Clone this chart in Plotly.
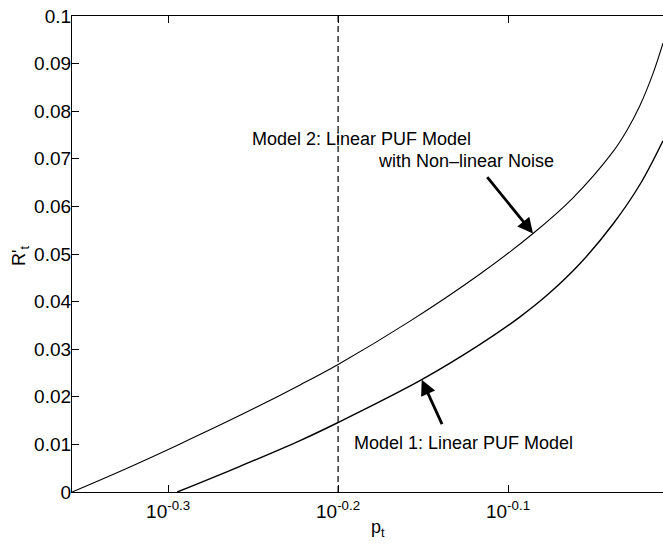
import math
import plotly.graph_objects as go

# Model 2: linear PUF model with non-linear noise
p_model2 = [0.4400, 0.4734, 0.5094, 0.5525, 0.5993, 0.6310, 0.6956, 0.7648,
            0.8217, 0.8675, 0.9158, 0.9333, 0.9498, 0.9667, 0.9799]
r_model2 = [0.0, 0.0049, 0.0101, 0.0161, 0.0225, 0.0268, 0.0359, 0.0458,
            0.0543, 0.0618, 0.0715, 0.0760, 0.0812, 0.0879, 0.0943]

# Model 1: linear PUF model
p_model1 = [0.5074, 0.5525, 0.5993, 0.6310, 0.7067, 0.7648, 0.8074,
            0.8409, 0.8758, 0.9158, 0.9498, 0.9799]
r_model1 = [0.0, 0.0054, 0.0108, 0.0146, 0.0236, 0.0310, 0.0368,
            0.0419, 0.0480, 0.0563, 0.0646, 0.0738]

# reference operating point (dashed marker)
p_marker = 0.631

# axis ticks
x_tickvals = [10 ** -0.3, 10 ** -0.2, 10 ** -0.1]
x_ticktext = ["10<sup>-0.3</sup>", "10<sup>-0.2</sup>", "10<sup>-0.1</sup>"]
y_tickvals = [0, 0.01, 0.02, 0.03, 0.04, 0.05, 0.06, 0.07, 0.08, 0.09, 0.1]
y_ticktext = ["0", "0.01", "0.02", "0.03", "0.04", "0.05", "0.06", "0.07",
              "0.08", "0.09", "0.1"]

# arrow targets on the curves
arrow1_p, arrow1_r = 0.7067, 0.0236
arrow2_p, arrow2_r = 0.8217, 0.0543

W, H = 663, 547
L, R, T, B = 72, 0, 16, 55
PW, PH = W - L - R, H - T - B
FONT = "Liberation Sans, Arial, Helvetica, sans-serif"


def px(xp):
    return (xp - L) / PW


def py(yp):
    return (H - B - yp) / PH


fig = go.Figure()
fig.add_trace(go.Scatter(x=[p_marker, p_marker], y=[0, 0.1], mode="lines",
                         line=dict(color="black", width=1.2, dash="6px,4px"),
                         showlegend=False, hoverinfo="skip"))
fig.add_trace(go.Scatter(x=p_model2, y=r_model2, mode="lines",
                         line=dict(color="black", width=1.1, shape="spline"),
                         showlegend=False))
fig.add_trace(go.Scatter(x=p_model1, y=r_model1, mode="lines",
                         line=dict(color="black", width=1.4, shape="spline"),
                         showlegend=False))

annotations = [
    dict(text="Model 2: Linear PUF Model", x=px(250), y=py(139),
         xref="paper", yref="paper", xanchor="left", yanchor="middle",
         showarrow=False),
    dict(text="with Non\u2013linear Noise", x=px(376), y=py(161),
         xref="paper", yref="paper", xanchor="left", yanchor="middle",
         showarrow=False),
    dict(text="Model 1: Linear PUF Model", x=px(352), y=py(443),
         xref="paper", yref="paper", xanchor="left", yanchor="middle",
         showarrow=False),
    dict(text="", x=math.log10(arrow1_p), y=arrow1_r, xref="x", yref="y",
         ax=21, ay=46, showarrow=True, arrowhead=2, arrowsize=1.1,
         arrowwidth=2.8, arrowcolor="black", standoff=0),
    dict(text="", x=math.log10(arrow2_p), y=arrow2_r, xref="x", yref="y",
         ax=-47, ay=-58, showarrow=True, arrowhead=2, arrowsize=1.1,
         arrowwidth=2.8, arrowcolor="black", standoff=0),
    dict(text="p<sub>t</sub>", x=px(378), y=py(528), xref="paper", yref="paper",
         xanchor="center", yanchor="middle", showarrow=False),
    dict(text="R'<sub>t</sub>", x=px(20), y=py(256), xref="paper", yref="paper",
         xanchor="center", yanchor="middle", textangle=-90, showarrow=False),
]

fig.update_layout(
    width=W, height=H,
    margin=dict(l=L, r=R, t=T, b=B, pad=0),
    paper_bgcolor="white", plot_bgcolor="white",
    font=dict(family=FONT, size=18, color="black"),
    annotations=annotations,
    xaxis=dict(type="log", range=[math.log10(0.44), -0.0088],
               tickvals=x_tickvals, ticktext=x_ticktext,
               tickfont=dict(size=19),
               ticks="inside", ticklen=7, tickwidth=1, tickcolor="black",
               ticklabelstandoff=2,
               showline=True, linecolor="black", linewidth=1.2, mirror="ticks",
               showgrid=False, zeroline=False),
    yaxis=dict(range=[0, 0.1], tickvals=y_tickvals, ticktext=y_ticktext,
               tickfont=dict(size=19),
               ticks="inside", ticklen=7, tickwidth=1, tickcolor="black",
               ticklabelstandoff=-4,
               showline=True, linecolor="black", linewidth=1.2,
               showgrid=False, zeroline=False),
)

fig.write_html("out.html")
